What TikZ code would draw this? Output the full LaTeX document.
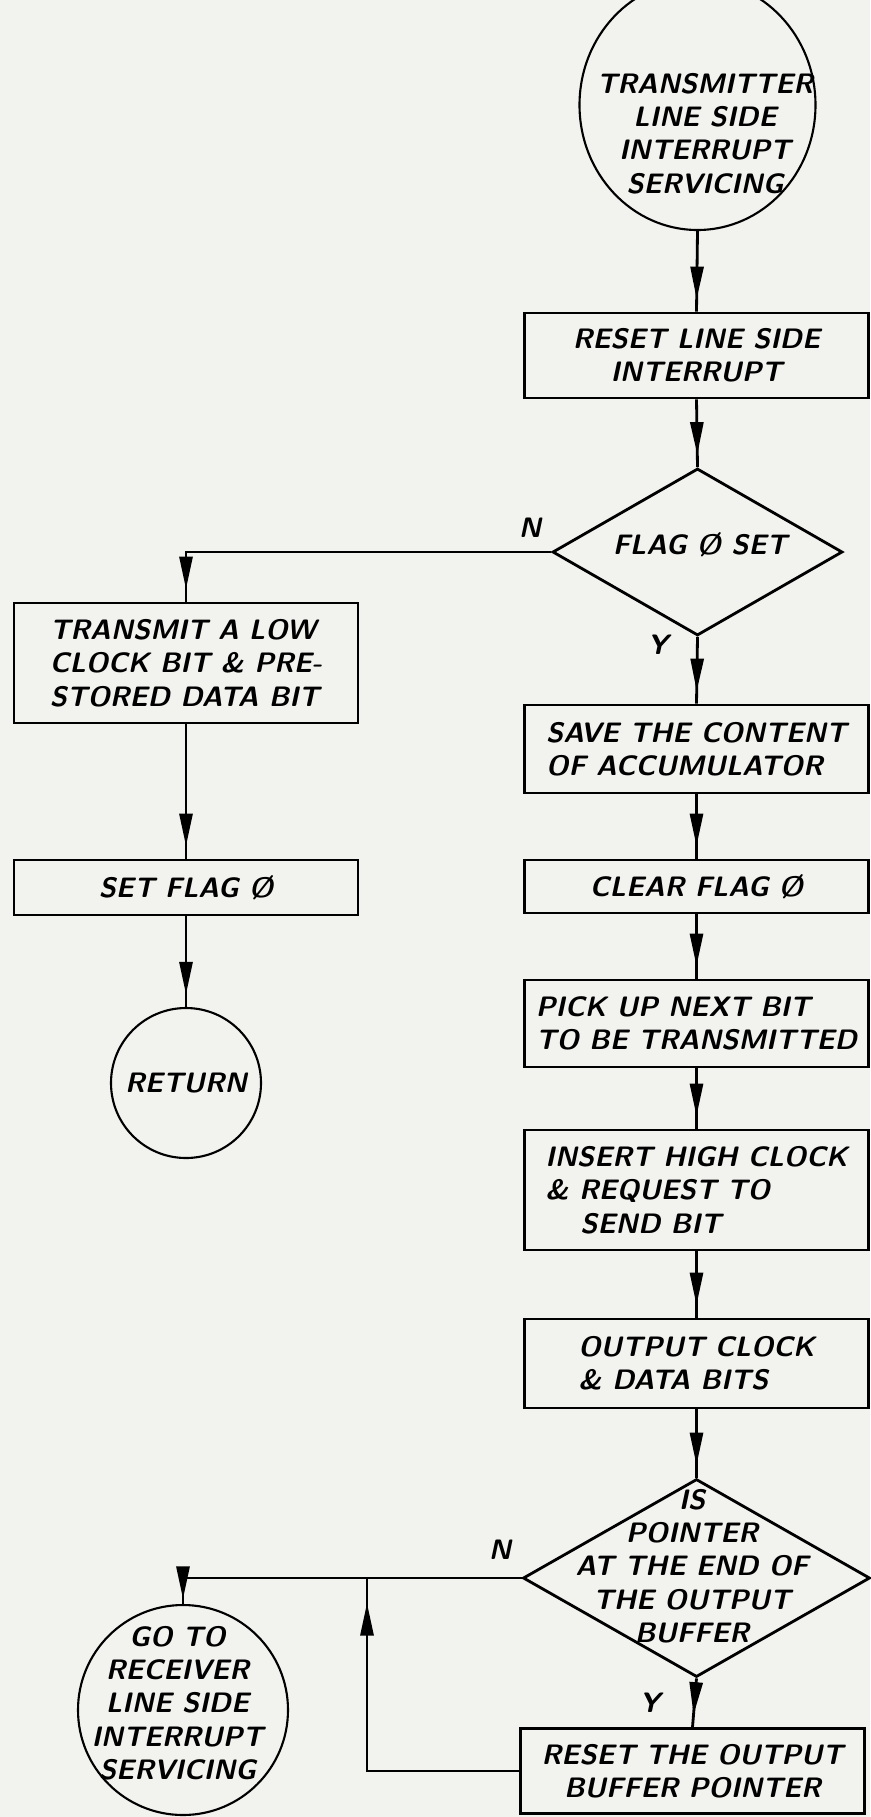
\documentclass[tikz,border=0pt]{standalone}
\usetikzlibrary{shapes.geometric,arrows.meta,decorations.markings}
\definecolor{paper}{RGB}{242,242,239}
\tikzset{
	hand/.style={font=\fontsize{16}{19}\selectfont\sffamily\bfseries\slshape},
	box/.style={draw, line width=1.6pt, minimum width=6.88cm, minimum height=#1, inner sep=2pt, hand},
	term/.style={draw, circle, line width=1.2pt, minimum size=#1, inner sep=0pt, hand},
	decision/.style={draw, diamond, line width=1.6pt, inner sep=0pt},
	lbl/.style={hand},
	flow/.style={line width=1.6pt, postaction={decorate},
		decoration={markings, mark=at position #1 with {\arrow{Triangle[length=6.5mm,width=2.6mm]}}}},
	flow/.default=-0.25cm
}
\begin{document}
\begin{tikzpicture}
		\fill[paper] (0,0) rectangle (17.4,-36.34);
		\useasboundingbox (0,0) rectangle (17.4,-36.34);

		%main column
		\node[draw, ellipse, line width=1.2pt, inner sep=0pt, minimum width=4.72cm, minimum height=5cm] (start) at (13.95,-2.1) {};
		\node[hand, align=center] (starttxt) at (14.1,-2.67) {TRANSMITTER\\LINE SIDE\\INTERRUPT\\SERVICING};
		\node[box=1.7cm, align=center] (reset) at (13.93,-7.11) {RESET LINE SIDE\\INTERRUPT};
		\node[decision, minimum width=5.8cm, minimum height=3.34cm] (flag) at (13.95,-11.04) {};
		\node[hand] (flagtxt) at (14.0,-10.9) {FLAG \O{} SET};
		\node[box=1.76cm, align=left] (save) at (13.93,-14.98) {SAVE THE CONTENT\\OF ACCUMULATOR};
		\node[box=1.06cm] (clear) at (13.93,-17.73) {CLEAR FLAG \O};
		\node[box=1.74cm, align=left] (pick) at (13.93,-20.47) {PICK UP NEXT BIT\\TO BE TRANSMITTED};
		\node[box=2.4cm, align=left] (insert) at (13.93,-23.8) {INSERT HIGH CLOCK\\\& REQUEST TO\\\hspace*{0.7cm}SEND BIT};
		\node[box=1.78cm, align=left] (outp) at (13.93,-27.27) {OUTPUT CLOCK\\\& DATA BITS};
		\node[decision, minimum width=6.94cm, minimum height=3.96cm] (ptr) at (13.93,-31.56) {};
		\node[hand, align=center] (ptrtxt) at (13.84,-31.32) {IS\\POINTER\\AT THE END OF\\THE OUTPUT\\BUFFER};
		\node[box=1.7cm, align=center] (rptr) at (13.85,-35.42) {RESET THE OUTPUT\\BUFFER POINTER};

		%left column
		\node[box=2.4cm, align=left] (low) at (3.72,-13.26) {TRANSMIT A LOW\\CLOCK BIT \& PRE-\\STORED DATA BIT};
		\node[box=1.1cm] (setflag) at (3.72,-17.75) {SET FLAG \O};
		\node[term=3cm] (ret) at (3.72,-21.66) {RETURN};
		\node[term=4.2cm] (goto) at (3.66,-34.2) {};
		\node[hand, align=center] (gototxt) at (3.55,-34.06) {GO TO\\RECEIVER\\LINE SIDE\\INTERRUPT\\SERVICING};

		%connectors
		\draw[flow] (start.south) -- (reset.north);
		\draw[flow] (reset.south) -- (flag.north);
		\draw[flow] (flag.west) -| (low.north);
		\draw[flow] (flag.south) -- (save.north);
		\draw[flow] (save.south) -- (clear.north);
		\draw[flow] (clear.south) -- (pick.north);
		\draw[flow] (pick.south) -- (insert.north);
		\draw[flow] (insert.south) -- (outp.north);
		\draw[flow] (outp.south) -- (ptr.north);
		\draw[flow] (low.south) -- (setflag.north);
		\draw[flow] (setflag.south) -- (ret.north);
		\draw[flow=-0.1cm] (ptr.west) -| (goto.north);
		\draw[flow] (ptr.south) -- (rptr.north);
		\coordinate (join) at (7.34,-31.56);
		\draw[flow=-0.5cm] (rptr.west) -| (join);

		%branch labels
		\node[lbl] (n1) at (10.6,-10.56) {N};
		\node[lbl] (y1) at (13.16,-12.9) {Y};
		\node[lbl] (n2) at (10.0,-31.0) {N};
		\node[lbl] (y2) at (13.0,-34.06) {Y};
	\end{tikzpicture}
\end{document}
